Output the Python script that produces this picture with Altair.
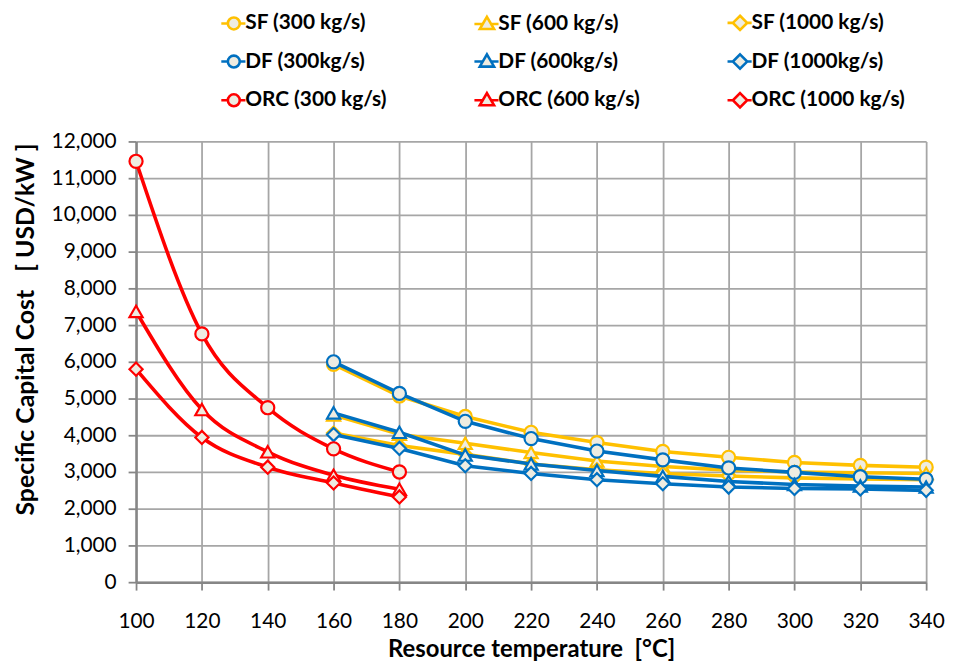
import altair as alt
import pandas as pd

# ---- data ----
temps_orc = [100, 120, 140, 160, 180]
temps_plant = [160, 180, 200, 220, 240, 260, 280, 300, 320, 340]

sf_300 = [5930, 5070, 4510, 4080, 3800, 3560, 3400, 3260, 3180, 3130]
sf_600 = [4550, 4030, 3780, 3530, 3300, 3150, 3050, 3000, 2980, 2960]
sf_1000 = [4060, 3720, 3480, 3220, 3060, 2960, 2890, 2840, 2810, 2790]
df_300 = [6000, 5140, 4380, 3910, 3570, 3330, 3110, 2990, 2870, 2800]
df_600 = [4610, 4080, 3460, 3220, 3040, 2880, 2740, 2660, 2620, 2590]
df_1000 = [4020, 3640, 3170, 2960, 2790, 2680, 2590, 2550, 2540, 2500]
orc_300 = [11460, 6760, 4750, 3630, 3000]
orc_600 = [7370, 4700, 3550, 2910, 2530]
orc_1000 = [5800, 3940, 3130, 2700, 2320]

series_names = [
    "SF (300 kg/s)", "SF (600 kg/s)", "SF (1000 kg/s)",
    "DF (300kg/s)", "DF (600kg/s)", "DF (1000kg/s)",
    "ORC (300 kg/s)", "ORC (600 kg/s)", "ORC (1000 kg/s)",
]
series_groups = ["SF"] * 3 + ["DF"] * 3 + ["ORC"] * 3
series_flows = ["300", "600", "1000"] * 3
series_colors = ["#FFC000"] * 3 + ["#0070C0"] * 3 + ["#FF0000"] * 3
series_values = [sf_300, sf_600, sf_1000, df_300, df_600, df_1000, orc_300, orc_600, orc_1000]
series_temps = [temps_plant] * 6 + [temps_orc] * 3

x_ticks = [100, 120, 140, 160, 180, 200, 220, 240, 260, 280, 300, 320, 340]
y_ticks = [0, 1000, 2000, 3000, 4000, 5000, 6000, 7000, 8000, 9000, 10000, 11000, 12000]

rows = []
for name, grp, flow, temps, vals in zip(series_names, series_groups, series_flows, series_temps, series_values):
    for t, v in zip(temps, vals):
        rows.append({"series": name, "group": grp, "flow": flow, "temp": t, "cost": v})
df = pd.DataFrame(rows)

# legend symbols: line through a marker (custom SVG paths, unit scale)
circle_p = "M-1,0A1,1 0 1,0 1,0A1,1 0 1,0 -1,0Z" + "M-2.1,0H-1M1,0H1.95"
tri_p = "M0,-1.2L1.2,0.85L-1.2,0.85Z" + "M-2.1,0H-0.65M0.65,0H1.95"
dia_p = "M0,-1.2L1.2,0L0,1.2L-1.2,0Z" + "M-2.1,0H-1.2M1.2,0H1.95"
path_for_flow = {"300": circle_p, "600": tri_p, "1000": dia_p}

# legend reads column by column: order entries so rows show SF / DF / ORC
legend_order = [series_names[g * 3 + f] for f in range(3) for g in range(3)]
legend_colors = [series_colors[series_names.index(n)] for n in legend_order]
legend_paths = [path_for_flow[series_flows[series_names.index(n)]] for n in legend_order]

FONT = "Lato"
MARKER_FILL = "#EEECE1"

x_enc = alt.X(
    "temp:Q",
    scale=alt.Scale(domain=[100, 340], nice=False),
    axis=alt.Axis(
        values=x_ticks, format="d",
        title="Resource temperature\u00a0\u00a0[°C]",
        titlePadding=6,
        titleFontSize=24,
        labelPadding=21,
        labelFlush=False,
    ),
)
y_enc = alt.Y(
    "cost:Q",
    scale=alt.Scale(domain=[0, 12000], nice=False),
    axis=alt.Axis(
        values=y_ticks, format=",d",
        title="Specific Capital Cost\u00a0\u00a0\u00a0[\u00a0USD/kW\u00a0]",
        titlePadding=13,
        titleY=189,
        labelPadding=12,
    ),
)
color_scale = alt.Scale(domain=series_names, range=series_colors)
shape_scale = alt.Scale(domain=["300", "600", "1000"], range=["circle", "triangle-up", "diamond"])

base = alt.Chart(df)
layers = []
for grp in ["SF", "DF", "ORC"]:
    sub = base.transform_filter(alt.datum.group == grp)
    line = sub.mark_line(
        strokeWidth=3.6,
        interpolate="monotone" if grp == "ORC" else "linear",
    ).encode(
        x=x_enc, y=y_enc,
        stroke=alt.Stroke("series:N", scale=color_scale, legend=None),
        detail="series:N",
    )
    pts = sub.mark_point(
        filled=True, fill=MARKER_FILL, opacity=1, strokeWidth=2.2, size=175,
    ).encode(
        x=x_enc, y=y_enc,
        stroke=alt.Stroke("series:N", scale=color_scale, legend=None),
        shape=alt.Shape("flow:N", scale=shape_scale, legend=None),
    )
    layers += [line, pts]

leg = alt.Legend(
    title=None, orient="none", legendX=88, legendY=-130, columns=3,
    columnPadding=82, rowPadding=14, padding=0,
    symbolSize=144, symbolStrokeWidth=2.6, symbolFillColor=MARKER_FILL,
    labelFont=FONT, labelFontSize=21, labelFontWeight="bold", labelColor="black",
    labelOffset=1, labelLimit=300,
)
legend_layer = base.transform_filter("datum.cost < 0").mark_point(
    filled=True, fill=MARKER_FILL, opacity=1, strokeWidth=2.6,
).encode(
    x=x_enc, y=y_enc,
    stroke=alt.Stroke("series:N", scale=alt.Scale(domain=legend_order, range=legend_colors), legend=leg),
    shape=alt.Shape("series:N", scale=alt.Scale(domain=legend_order, range=legend_paths), legend=leg),
)
layers.append(legend_layer)

chart = alt.layer(*layers).resolve_scale(shape="independent", stroke="independent").properties(
    width=796, height=444,
    autosize=alt.AutoSizeParams(type="none"),
    padding={"left": 129, "top": 132, "right": 20, "bottom": 80},
).configure_view(stroke=None).configure_axis(
    labelFont=FONT, labelFontSize=21, labelColor="black",
    titleFont=FONT, titleFontSize=25, titleFontWeight="bold", titleColor="black",
    gridColor="#A6A6A6", gridWidth=1.8, gridOpacity=1,
    domainColor="#868686", domainWidth=2.5,
    tickColor="#868686", tickWidth=1.8, tickSize=8,
)

chart.save("out.html", embed_options={"renderer": "svg", "actions": False})
